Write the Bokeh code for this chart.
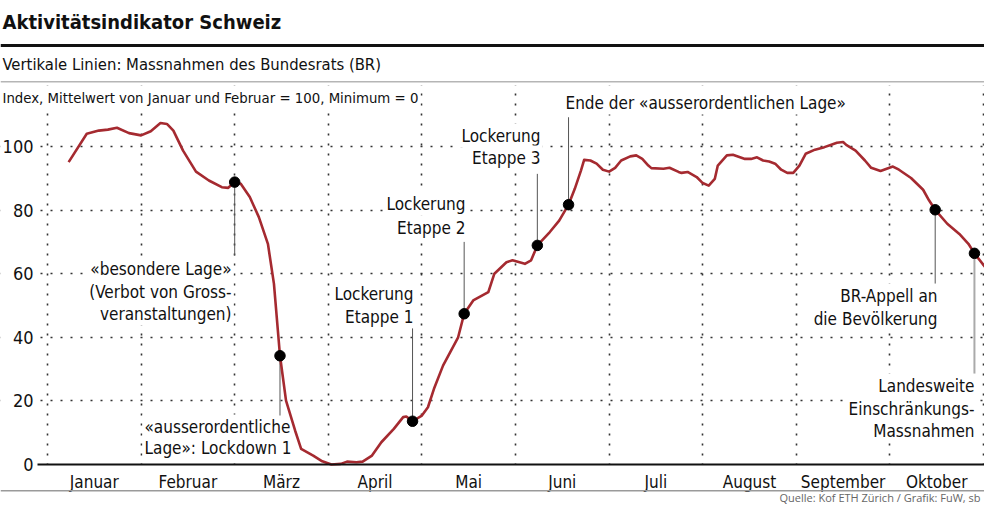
import calendar
from bokeh.plotting import figure
from bokeh.models import Label, FixedTicker, BoxAnnotation, Range1d, CustomJSTickFormatter
from bokeh.embed import file_html
from bokeh.resources import INLINE

FONT = "DejaVu Sans Condensed, Roboto"
FONT_SRC = "Open Sans"

# ---- data -------------------------------------------------------------
months = ["Januar", "Februar", "März", "April", "Mai", "Juni", "Juli",
          "August", "September", "Oktober"]
y_ticks = [0, 20, 40, 60, 80, 100]

dates = [
    "2020-01-08", "2020-01-14", "2020-01-18", "2020-01-21", "2020-01-24", "2020-01-28",
    "2020-02-01", "2020-02-04", "2020-02-07", "2020-02-09", "2020-02-11", "2020-02-14",
    "2020-02-18", "2020-02-22", "2020-02-26", "2020-02-28", "2020-03-01", "2020-03-03",
    "2020-03-06", "2020-03-09", "2020-03-12", "2020-03-14", "2020-03-16", "2020-03-18",
    "2020-03-21", "2020-03-23", "2020-03-27", "2020-03-30", "2020-04-02", "2020-04-05",
    "2020-04-07", "2020-04-10", "2020-04-12", "2020-04-15", "2020-04-18", "2020-04-22",
    "2020-04-25", "2020-04-26", "2020-04-28", "2020-05-01", "2020-05-03", "2020-05-05",
    "2020-05-08", "2020-05-13", "2020-05-15", "2020-05-18", "2020-05-23", "2020-05-25",
    "2020-05-29", "2020-05-31", "2020-06-04", "2020-06-06", "2020-06-08", "2020-06-12",
    "2020-06-15", "2020-06-18", "2020-06-20", "2020-06-22", "2020-06-23", "2020-06-25",
    "2020-06-27", "2020-06-29", "2020-07-01", "2020-07-03", "2020-07-05", "2020-07-08",
    "2020-07-10", "2020-07-12", "2020-07-14", "2020-07-15", "2020-07-19", "2020-07-21",
    "2020-07-24", "2020-07-25", "2020-07-27", "2020-07-30", "2020-08-01", "2020-08-03",
    "2020-08-05", "2020-08-06", "2020-08-09", "2020-08-11", "2020-08-15", "2020-08-17",
    "2020-08-19", "2020-08-21", "2020-08-23", "2020-08-25", "2020-08-27", "2020-08-29",
    "2020-08-31", "2020-09-02", "2020-09-04", "2020-09-07", "2020-09-10", "2020-09-12",
    "2020-09-14", "2020-09-16", "2020-09-17", "2020-09-20", "2020-09-23", "2020-09-25",
    "2020-09-28", "2020-10-02", "2020-10-04", "2020-10-08", "2020-10-12", "2020-10-14",
    "2020-10-16", "2020-10-20", "2020-10-24", "2020-10-27", "2020-10-29", "2020-11-02",
]
index_values = [
    95.1, 104.0, 105.0, 105.3, 105.9, 104.2,
    103.5, 104.8, 107.4, 107.1, 105.0, 98.7,
    92.1, 89.3, 87.2, 87.0, 88.8, 88.3,
    84.1, 77.8, 69.4, 56.8, 34.2, 20.1,
    10.7, 4.9, 2.8, 1.0, 0.0, 0.2,
    0.9, 0.7, 0.9, 2.8, 7.0, 11.2,
    14.9, 15.1, 13.6, 15.4, 18.0, 23.8,
    31.1, 40.0, 47.4, 51.6, 54.2, 60.0,
    63.6, 64.2, 63.1, 64.2, 68.9, 73.1,
    76.7, 81.7, 86.7, 92.5, 95.8, 95.6,
    94.6, 92.7, 92.1, 93.3, 95.6, 96.9,
    97.2, 96.1, 94.0, 93.2, 93.0, 93.3,
    92.0, 91.7, 92.0, 90.4, 88.5, 87.7,
    89.8, 94.0, 97.2, 97.4, 96.1, 96.1,
    96.6, 95.6, 95.3, 94.6, 92.7, 91.7,
    91.7, 94.0, 97.7, 99.0, 99.8, 100.5,
    101.2, 101.4, 100.5, 98.7, 95.6, 93.3,
    92.3, 93.7, 92.7, 90.1, 86.4, 83.0,
    80.1, 75.7, 72.5, 69.4, 66.4, 61.5,
]

event_dates = ["2020-03-01", "2020-03-16", "2020-04-28", "2020-05-15",
               "2020-06-08", "2020-06-18", "2020-10-16", "2020-10-29"]
event_texts = [
    ["«besondere Lage»", "(Verbot von Gross-", "veranstaltungen)"],
    ["«ausserordentliche", "Lage»: Lockdown 1"],
    ["Lockerung", "Etappe 1"],
    ["Lockerung", "Etappe 2"],
    ["Lockerung", "Etappe 3"],
    ["Ende der «ausserordentlichen Lage»"],
    ["BR-Appell an", "die Bevölkerung"],
    ["Landesweite", "Einschränkungs-", "Massnahmen"],
]

title_text = "Aktivitätsindikator Schweiz"
subtitle_text = "Vertikale Linien: Massnahmen des Bundesrats (BR)"
unit_text = "Index, Mittelwert von Januar und Februar = 100, Minimum = 0"
source_text = "Quelle: Kof ETH Zürich / Grafik: FuW, sb"

def month_pos(d):
    y, m, day = (int(v) for v in d.split("-"))
    nd = calendar.monthrange(y, m)[1]
    return (m - 1) + (day - 1) / nd

xs = [month_pos(d) for d in dates]
ev_x = [month_pos(d) for d in event_dates]
ev_y = [index_values[dates.index(d)] for d in event_dates]

# ---- layout (canvas pixels) --------------------------------------------
W, H = 984, 505
X0_PX, PX_MONTH = 47, 93.6         # canvas x of 1 January, px per month
Y0_PX, PX_UNIT = 464, 3.18         # canvas y of index 0, px per index point
PLOT_L, PLOT_T = 37, 85            # left / top edge of the chart area

def dx(px):
    return (px - X0_PX) / PX_MONTH

def dy(py):
    return (Y0_PX - py) / PX_UNIT

conn_end = [65.7, 15.4, 42.8, 70.0, 91.4, 109.2, 56.9, 28.6]
label_x = [233, 142, 415, 467, 542, 563, 939, 976]
label_align = ["right", "left", "right", "right", "right", "left", "right", "right"]
label_y = [[268, 291, 313], [426, 447], [293, 316], [203, 227], [135, 157], [102],
           [295, 318], [385, 408, 430]]

RED = "#a52a30"
GRID_COL = "#333333"

x_lo, x_hi = dx(0), dx(W)
y_lo, y_hi = dy(H), dy(0)

p = figure(width=W, height=H, output_backend="svg", toolbar_location=None, title=None,
           x_range=Range1d(x_lo, x_hi), y_range=Range1d(y_lo, y_hi),
           min_border=0, min_border_left=0, min_border_right=0,
           min_border_top=0, min_border_bottom=0)
p.outline_line_color = None
p.background_fill_color = "white"
p.border_fill_color = "white"

# x axis drawn on the zero line
xa = p.xaxis[0]
xa.fixed_location = 0
xa.bounds = (dx(PLOT_L), x_hi)
xa.ticker = FixedTicker(ticks=[i + 0.5 for i in range(len(months))])
xa.formatter = CustomJSTickFormatter(args=dict(names=months),
                                     code="return names[Math.floor(tick)] || ''")
xa.axis_line_color = "#111111"
xa.axis_line_width = 2
xa.major_tick_out = 0
xa.major_tick_in = 0
xa.minor_tick_out = 0
xa.minor_tick_in = 0
xa.major_label_standoff = 7
xa.major_label_text_font = FONT
xa.major_label_text_font_size = "17px"
xa.major_label_text_color = "#111111"

ya = p.yaxis[0]
ya.fixed_location = dx(PLOT_L)
ya.ticker = FixedTicker(ticks=y_ticks)
ya.axis_line_color = None
ya.major_tick_out = 0
ya.major_tick_in = 0
ya.minor_tick_out = 0
ya.minor_tick_in = 0
ya.major_label_standoff = 4
ya.major_label_text_font = FONT
ya.major_label_text_font_size = "18px"
ya.major_label_text_color = "#111111"

p.xgrid.ticker = FixedTicker(ticks=list(range(len(months) + 1)))
p.ygrid.ticker = FixedTicker(ticks=[t for t in y_ticks if t > 0])
for g in (p.xgrid[0], p.ygrid[0]):
    g.grid_line_color = GRID_COL
    g.grid_line_width = 1.6
    g.grid_line_dash = "2 8"

def box(left, right, top, bottom, color, level):
    p.add_layout(BoxAnnotation(left=left, right=right, top=top, bottom=bottom,
                               fill_color=color, fill_alpha=1, line_color=None,
                               level=level))

# keep the grid inside the chart area (white masks above, below and left of it)
box(x_lo, x_hi, y_hi, dy(PLOT_T), "white", "underlay")
box(x_lo, x_hi, 0, y_lo, "white", "underlay")
box(x_lo, dx(PLOT_L), dy(PLOT_T), 0, "white", "underlay")

def label(t, px, py, align="left", size=17, bold=False, color="#111111",
          font=FONT, bg=True, level="underlay"):
    p.add_layout(Label(x=dx(px), y=dy(py), text=t, text_align=align,
                       text_baseline="middle", text_font=font,
                       text_font_size=f"{size}px",
                       text_font_style="bold" if bold else "normal",
                       text_color=color,
                       background_fill_color="white" if bg else None,
                       padding=2, level=level))

def rule(py_top, thick, color):
    box(x_lo, x_hi, dy(py_top), dy(py_top + thick), color, "annotation")

# header
label(title_text, 0, 21, size=20, bold=True, bg=False, level="annotation")
rule(43.5, 3, "#111111")
label(subtitle_text, 0, 64, size=16.5, bg=False, level="annotation")
rule(80.5, 1.5, "#b5b5b5")
label(unit_text, 0, 97, size=14.8)

# footer
rule(489.5, 1.5, "#9a9a9a")
label(source_text, W - 2, 497, align="right", size=11, color="#666666",
      font=FONT_SRC, bg=False, level="annotation")

# annotation texts
for lines, ax, al, ys in zip(event_texts, label_x, label_align, label_y):
    for t, yy in zip(lines, ys):
        label(t, ax, yy, align=al)

conn_col = ["#555555"] * 7 + ["#aaaaaa"]
conn_w = [1] * 7 + [2]
p.segment(x0=ev_x, y0=ev_y, x1=ev_x, y1=conn_end, line_color=conn_col, line_width=conn_w)
p.line(xs, index_values, line_color=RED, line_width=2.6, line_join="round")
p.scatter(ev_x, ev_y, size=10.5, fill_color="black", line_color="black")

open("out.html", "w").write(file_html(p, INLINE))
